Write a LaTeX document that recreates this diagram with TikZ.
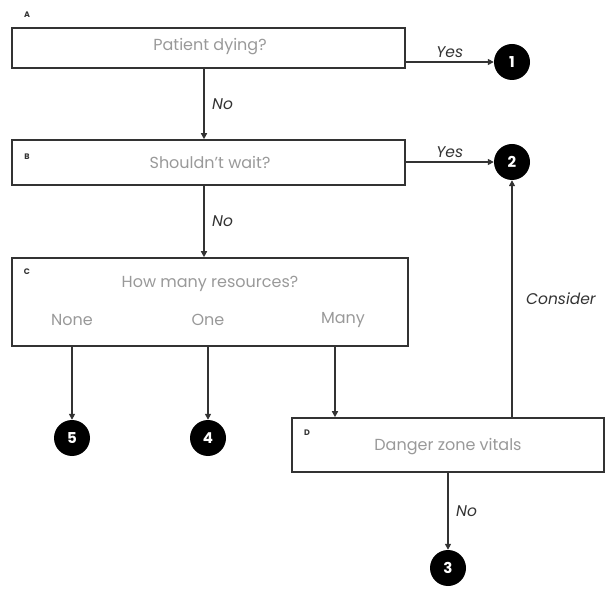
\documentclass[tikz,border=0pt]{standalone}
\usepackage{fontspec}
\setmainfont{Poppins}
\usetikzlibrary{arrows.meta}

\definecolor{boxtext}{gray}{0.6}
\definecolor{linegray}{gray}{0.2}

\tikzset{
  box/.style={draw=linegray, line width=1.6pt, rectangle, inner sep=0pt},
  question/.style={text=boxtext, font=\fontsize{16}{19}\selectfont},
  tag/.style={font=\fontsize{8}{9}\selectfont\bfseries, text=linegray},
  answer/.style={font=\fontsize{15.5}{18}\selectfont\itshape, text=linegray},
  outcome/.style={circle, fill=black, text=white, minimum size=36pt, inner sep=0pt, font=\fontsize{15}{18}\selectfont\bfseries},
  arr/.style={draw=linegray, line width=1.6pt, -{Triangle[length=6pt,width=6pt]}}
}

\begin{document}
\begin{tikzpicture}[x=1pt,y=-1pt]
  \useasboundingbox (0,0) rectangle (613,593);

  \node[box, minimum width=393pt, minimum height=40pt] (A) at (208.5,48) {};
  \node[question] (qA) at (210,47) {Patient dying?};
  \node[tag] (tA) at (27,15) {A};

  \node[box, minimum width=393pt, minimum height=45pt] (B) at (208.5,162.5) {};
  \node[question] (qB) at (210,162) {Shouldn't wait?};
  \node[tag] (tB) at (27,157) {B};

  \node[box, minimum width=396pt, minimum height=88pt] (C) at (210,302) {};
  \node[question] (qC) at (210,284) {How many resources?};
  \node[question] (none) at (72,320) {None};
  \node[question] (one) at (208,320) {One};
  \node[question] (many) at (343,320) {Many};
  \node[tag] (tC) at (27,272) {C};

  \node[box, minimum width=312pt, minimum height=54pt] (D) at (448,445) {};
  \node[question] (qD) at (448,447) {Danger zone vitals};
  \node[tag] (tD) at (307,433) {D};

  \node[outcome] (o1) at (512,62) {1};
  \node[outcome] (o2) at (512,162) {2};
  \node[outcome] (o3) at (448,568) {3};
  \node[outcome] (o4) at (208,438) {4};
  \node[outcome] (o5) at (72,438) {5};

  \draw[arr] (A.east |- o1) -- (o1) node[answer, midway, above] {Yes};
  \draw[arr] (A.south -| 204,0) -- (B.north -| 204,0) node[answer, midway, right, xshift=4pt] {No};
  \draw[arr] (B.east |- o2) -- (o2) node[answer, midway, above] {Yes};
  \draw[arr] (B.south -| 204,0) -- (C.north -| 204,0) node[answer, midway, right, xshift=4pt] {No};
  \draw[arr] (C.south -| o5) -- (o5);
  \draw[arr] (C.south -| o4) -- (o4);
  \draw[arr] (C.south -| 335,0) -- (D.north -| 335,0);
  \draw[arr] (D.north -| o2) -- (o2) node[answer, midway, right, xshift=10pt] {Consider};
  \draw[arr] (D.south -| o3) -- (o3) node[answer, midway, right, xshift=4pt] {No};
\end{tikzpicture}
\end{document}
